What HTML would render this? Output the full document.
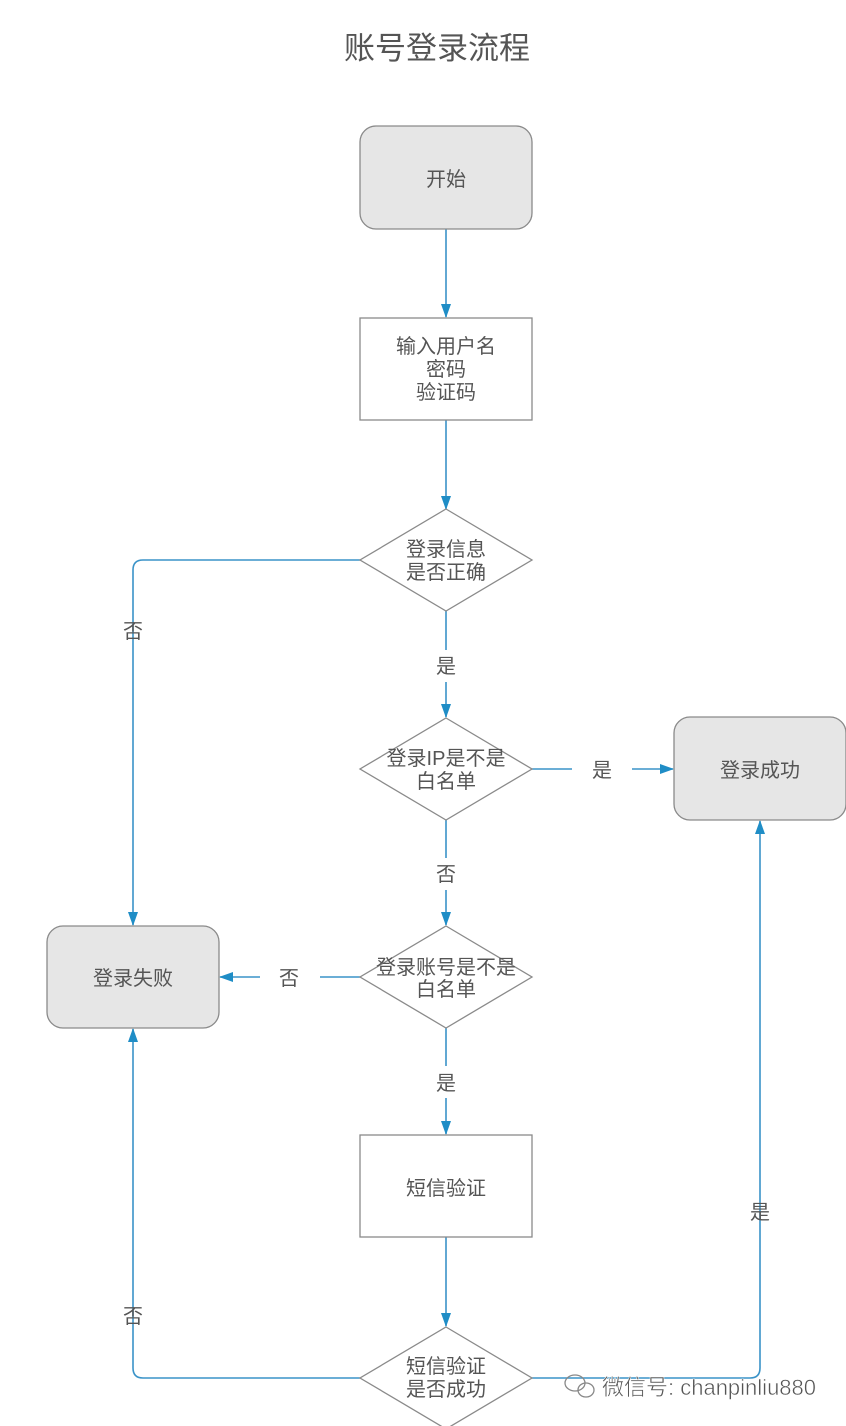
<!DOCTYPE html>
<html><head><meta charset="utf-8"><style>
html,body{margin:0;padding:0;background:#fff;}
svg{display:block;}
text{font-family:"Liberation Sans","Noto Sans CJK SC",sans-serif;fill:#555;}
</style></head><body>
<svg width="846" height="1426" viewBox="0 0 846 1426" xmlns="http://www.w3.org/2000/svg">
<defs>
<marker id="a" viewBox="0 0 14 10" refX="13" refY="5" markerWidth="14" markerHeight="10" markerUnits="userSpaceOnUse" orient="auto">
<path d="M0,0 L14,5 L0,10 Z" fill="#1f8dc6"/></marker>
</defs>
<text x="437" y="59" font-size="31" text-anchor="middle" fill="#444">账号登录流程</text>

<g fill="none" stroke="#3a93c8" stroke-width="1.6">
<path d="M446,229 V317" marker-end="url(#a)"/>
<path d="M446,420 V509" marker-end="url(#a)"/>
<path d="M446,611 V650 M446,682 V717" marker-end="url(#a)"/>
<path d="M446,820 V858 M446,890 V925" marker-end="url(#a)"/>
<path d="M446,1028 V1066 M446,1098 V1134" marker-end="url(#a)"/>
<path d="M446,1237 V1326" marker-end="url(#a)"/>
<path d="M532,769 H572 M632,769 H673" marker-end="url(#a)"/>
<path d="M360,977 H320 M260,977 H220" marker-end="url(#a)"/>
<path d="M360,560 H143 Q133,560 133,570 V925" marker-end="url(#a)"/>
<path d="M360,1378 H143 Q133,1378 133,1368 V1029" marker-end="url(#a)"/>
<path d="M532,1378 H750 Q760,1378 760,1368 V821" marker-end="url(#a)"/>
</g>

<g stroke="#8a8a8a" stroke-width="1.3">
<rect x="360" y="126" width="172" height="103" rx="16" fill="#e6e6e6"/>
<rect x="360" y="318" width="172" height="102" fill="#fff"/>
<polygon points="446,509 532,560 446,611 360,560" fill="#fff"/>
<polygon points="446,718 532,769 446,820 360,769" fill="#fff"/>
<polygon points="446,926 532,977 446,1028 360,977" fill="#fff"/>
<rect x="360" y="1135" width="172" height="102" fill="#fff"/>
<polygon points="446,1327 532,1378 446,1429 360,1378" fill="#fff"/>
<rect x="674" y="717" width="172" height="103" rx="16" fill="#e6e6e6"/>
<rect x="47" y="926" width="172" height="102" rx="16" fill="#e6e6e6"/>
</g>

<g font-size="20" text-anchor="middle">
<text x="446" y="186">开始</text>
<text x="446" y="353">输入用户名</text>
<text x="446" y="376">密码</text>
<text x="446" y="399">验证码</text>
<text x="446" y="556">登录信息</text>
<text x="446" y="579">是否正确</text>
<text x="446" y="765">登录IP是不是</text>
<text x="446" y="788">白名单</text>
<text x="446" y="974">登录账号是不是</text>
<text x="446" y="996">白名单</text>
<text x="446" y="1195">短信验证</text>
<text x="446" y="1373">短信验证</text>
<text x="446" y="1396">是否成功</text>
<text x="760" y="777">登录成功</text>
<text x="133" y="985">登录失败</text>
<text x="446" y="673">是</text>
<text x="446" y="881">否</text>
<text x="446" y="1090">是</text>
<text x="602" y="777">是</text>
<text x="289" y="985">否</text>
<text x="133" y="638">否</text>
<text x="133" y="1323">否</text>
<text x="760" y="1219">是</text>
</g>
<text x="602" y="1395" font-size="22" fill="#777" stroke="#fff" stroke-width="0.5">微信号: chanpinliu880</text>
<g fill="none" stroke="#888" stroke-width="1.3"><ellipse cx="575" cy="1383" rx="10" ry="8"/><ellipse cx="586" cy="1390" rx="8" ry="7"/></g>
</svg>
</body></html>
